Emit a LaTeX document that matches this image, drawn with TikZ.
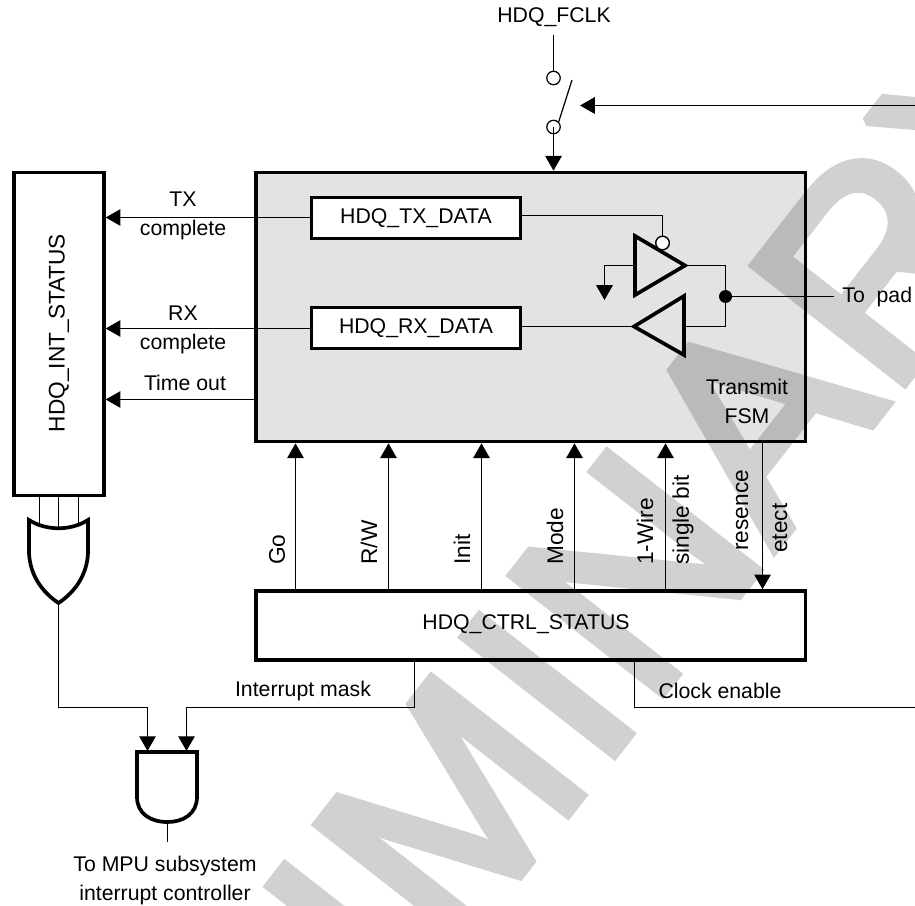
\documentclass[tikz,border=0pt]{standalone}
\usepackage{fontspec}
\setmainfont{Liberation Sans}
\newfontfamily\wmfont[LetterSpace=1.4]{Liberation Sans}
\usepackage{xcolor}
\usepackage{tikz}
\usetikzlibrary{arrows.meta,calc,positioning}
\definecolor{hdqfill}{HTML}{E3E3E3}
\tikzset{
every picture/.style={line cap=butt,line join=miter},
>={Triangle[length=8.4pt,width=9.4pt]},
reg box/.style={
  draw=black,
  fill=white,
  line width=2.1pt,
  inner sep=0pt,
  font=\fontsize{12.1}{13}\selectfont
},
fsm box/.style={reg box, fill=hdqfill},
gate line/.style={draw=black, line width=2.1pt},
sig flow/.style={draw=black, ->, line width=0.7pt},
sig line/.style={draw=black, line width=0.7pt},
sig label/.style={font=\fontsize{12.1}{13}\selectfont, inner sep=0pt, align=center},
sig vert/.style={sig label, font=\fontsize{12.9}{13}\selectfont, rotate=90, anchor=west},
pin node/.style={circle, draw=black, fill=white, line width=0.7pt, minimum size=13.5pt*0.567, inner sep=0pt},
watermark/.style={font=\fontsize{158}{158}\selectfont\wmfont, text=black, inner sep=0pt, anchor=base west, rotate=52}
}
\begin{document}
\begin{tikzpicture}[x=0.02cm,y=-0.02cm]
\useasboundingbox (0,0) rectangle (915,905);
% boxes
\node[fsm box,minimum width=551.5*0.567pt,minimum height=270*0.567pt] (fsm) at (530.75,307) {};
\node[reg box,minimum width=90*0.567pt,minimum height=324*0.567pt] (intstatus) at (59,334) {};
\node[sig label,font=\fontsize{12.9}{13}\selectfont,rotate=90] (intlabel) at (59,333) {HDQ\_INT\_STATUS};
\node[reg box,minimum width=551.5*0.567pt,minimum height=69*0.567pt] (ctrl) at (530.75,625.5) {};
\node[sig label] (ctrllabel) at (526,624) {HDQ\_CTRL\_STATUS};
\node[reg box,minimum width=210*0.567pt,minimum height=41*0.567pt] (txdata) at (416,218) {HDQ\_TX\_DATA};
\node[reg box,minimum width=210*0.567pt,minimum height=41*0.567pt] (rxdata) at (416,328) {HDQ\_RX\_DATA};
% clock switch
\node[sig label] (fclk) at (554,17) {HDQ\_FCLK};
\node[pin node] (pintop) at (553.5,78) {};
\node[pin node] (pinbot) at (553.5,127) {};
\coordinate (swtip) at (572,80);
\coordinate (clkin) at (580,105.5);
\coordinate (clkright) at (915,105.5);
\draw[sig line] (553.5,35) -- (pintop);
\draw[sig line] (pinbot.north east) -- (swtip);
\draw[sig flow] (pinbot.center) -- (fsm.north -| pinbot);
\draw[sig flow] (clkright) -- (clkin);
% tristate buffers
\coordinate (buftop) at (685,265.5);
\coordinate (bufbot) at (634,326.5);
\coordinate (joinup) at (725.5,265.5);
\coordinate (joinlow) at (725.5,326.5);
\coordinate (gndin) at (635,265.5);
\coordinate (gndtip) at (604.5,300);
\node[pin node] (enable) at (662.5,243) {};
\node[circle,fill=black,minimum size=7.4pt,inner sep=0pt] (join) at (725.5,296.5) {};
\node[sig label,anchor=west] (topad) at (842,297) {To\ \ pad};
\draw[sig line] (txdata.east |- 0,215.5) -| (enable.north);
\draw[sig line] (rxdata.east |- bufbot) -- (bufbot);
\draw[sig line] (buftop) -- (joinup) -- (joinlow) -- (684,326.5);
\draw[sig line] (join) -- (834,296.5);
\draw[sig flow] (gndin) -| (gndtip);
\draw[gate line,fill=hdqfill] (635,236) -- (buftop) -- (635,295) -- cycle;
\draw[gate line,fill=hdqfill] (684,296) -- (bufbot) -- (684,355) -- cycle;
\node[pin node] at (enable) {};
\node[sig label] (fsmlabel) at (747,401) {Transmit\\[3.5pt]FSM};
% interrupt outputs
\coordinate (timeout) at (254,399.5);
\draw[sig flow] (txdata.west |- 0,217.5) -- (intstatus.east |- 0,217.5);
\draw[sig flow] (rxdata.west |- 0,328.5) -- (intstatus.east |- 0,328.5);
\draw[sig flow] (timeout) -- (intstatus.east |- timeout);
\node[sig label] (txlabel) at (183,216) {TX\\[3.5pt]complete};
\node[sig label] (rxlabel) at (183,330) {RX\\[3.5pt]complete};
\node[sig label] (tolabel) at (185,383) {Time out};
% control lines
\foreach \x/\name in {295.5/go,388.5/rw,481.5/init,574.5/mode,665.5/wire} {
\draw[sig flow] (ctrl.north -| \x,0) -- (fsm.south -| \x,0);
}
\draw[sig flow] (fsm.south -| 762.5,0) -- (ctrl.north -| 762.5,0);
\foreach \x/\y/\txt in {277/565/Go,369/565/R\slash W,462/565/Init,555/565/Mode,645/565/1-Wire,683/565/single bit,742/551/resence,780/553/etect} {
\node[sig vert] at (\x,\y) {\txt};
}
% or gate
\coordinate (orout) at (58.5,603);
\draw[sig line] (intstatus.south -| 39.5,0) -- (39.5,524);
\draw[sig line] (intstatus.south -| 58.5,0) -- (58.5,528);
\draw[sig line] (intstatus.south -| 78.5,0) -- (78.5,524);
\draw[gate line,fill=white] (29,520) .. controls (46,531) and (71,531) .. (88,520) -- (88,553) .. controls (87,575) and (75,592) .. (orout) .. controls (42,592) and (30,575) .. (29,553) -- cycle;
% and gate
\coordinate (andouttop) at (167.5,822);
\coordinate (andinone) at (147.5,751);
\coordinate (andintwo) at (186.5,751);
\draw[gate line,fill=white] (137,752) -- (197,752) -- (197,797) .. controls (197,814) and (183,822) .. (andouttop) .. controls (151,822) and (137,814) .. (137,797) -- cycle;
\node[sig label] (mpu) at (165,880.5) {To MPU subsystem\\[3.5pt]interrupt controller};
\draw[sig line] (andouttop) -- (167.5,842);
\draw[sig flow] (orout) |- (147.5,707.5) -- (andinone);
\draw[sig flow] (ctrl.south -| 414.5,0) |- (186.5,707.5) -- (andintwo);
\draw[sig line] (ctrl.south -| 634.5,0) |- (915,707.5);
\node[sig label] (masklabel) at (303,691) {Interrupt mask};
\node[sig label] (clocklabel) at (720,691) {Clock enable};
% watermark on top
\begin{scope}[transparency group,opacity=0.18]
\clip (0,0) rectangle (915,905);
\node[watermark] (wm) at (403.6,1024) {\special{pdf:code 2 Tr 5.4 w 2 M}IMINARY\special{pdf:code 0 Tr}};
\end{scope}
\end{tikzpicture}
\end{document}
